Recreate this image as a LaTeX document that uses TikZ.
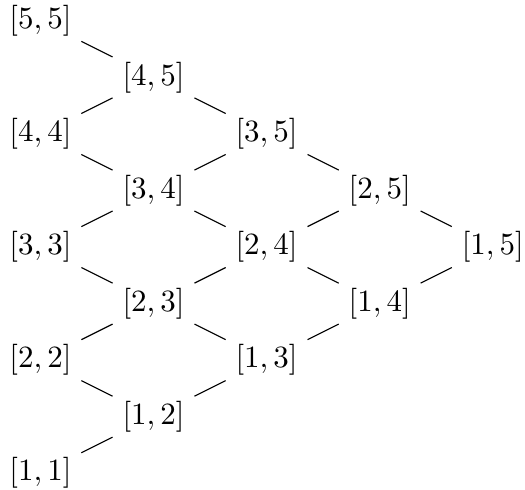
\documentclass[tikz,border=0pt]{standalone}
\usepackage{tikz}
\usetikzlibrary{positioning}

\begin{document}
\begin{tikzpicture}[x=40pt,y=20pt,every node/.style={font=\fontsize{10.95}{13.6}\selectfont}]
\useasboundingbox (-14.3pt,34.4pt) rectangle (171.4pt,207.4pt);

% top row
\node (n55) at (0,10) {$[5,5]$};
\node (n45) at (1,9) {$[4,5]$};
\node (n44) at (0,8) {$[4,4]$};
\node (n35) at (2,8) {$[3,5]$};

% middle
\node (n34) at (1,7) {$[3,4]$};
\node (n25) at (3,7) {$[2,5]$};
\node (n33) at (0,6) {$[3,3]$};
\node (n24) at (2,6) {$[2,4]$};
\node (n15) at (4,6) {$[1,5]$};
\node (n23) at (1,5) {$[2,3]$};
\node (n14) at (3,5) {$[1,4]$};

% bottom
\node (n22) at (0,4) {$[2,2]$};
\node (n13) at (2,4) {$[1,3]$};
\node (n12) at (1,3) {$[1,2]$};
\node (n11) at (0,2) {$[1,1]$};

% lines
\draw (n55) -- (n45);
\draw (n45) -- (n44);
\draw (n45) -- (n35);
\draw (n44) -- (n34);
\draw (n35) -- (n34);
\draw (n35) -- (n25);
\draw (n34) -- (n33);
\draw (n34) -- (n24);
\draw (n25) -- (n24);
\draw (n25) -- (n15);
\draw (n33) -- (n23);
\draw (n24) -- (n23);
\draw (n24) -- (n14);
\draw (n15) -- (n14);
\draw (n23) -- (n22);
\draw (n23) -- (n13);
\draw (n14) -- (n13);
\draw (n22) -- (n12);
\draw (n13) -- (n12);
\draw (n12) -- (n11);
\end{tikzpicture}
\end{document}
